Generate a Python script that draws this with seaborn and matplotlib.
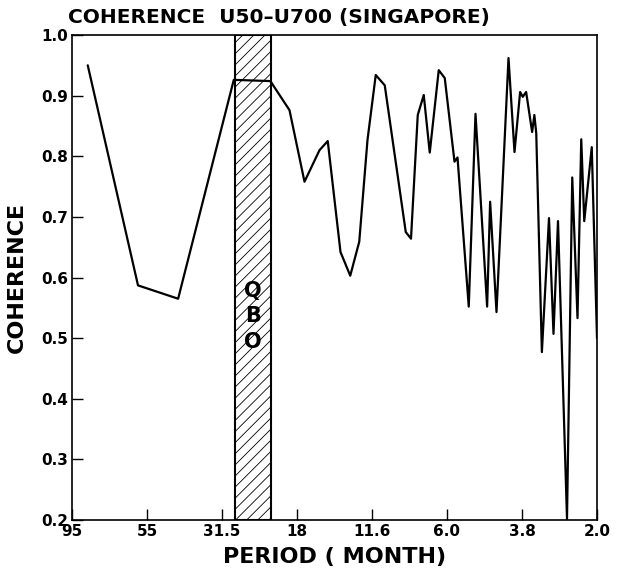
import matplotlib
matplotlib.use("Agg")
import matplotlib.pyplot as plt
import seaborn as sns
import pandas as pd

# ---- data (x = position on the evenly spaced period axis, 0..7) ----
tick_labels = ["95", "55", "31.5", "18", "11.6", "6.0", "3.8", "2.0"]
tick_pos = [0, 1, 2, 3, 4, 5, 6, 7]
pos = [0.21, 0.88, 1.415, 2.157, 2.645, 2.90, 3.10, 3.30, 3.41, 3.58, 3.71, 3.83,
       3.94, 4.05, 4.17, 4.45, 4.52, 4.61, 4.69, 4.77, 4.89, 4.97, 5.10, 5.14,
       5.29, 5.38, 5.535, 5.575, 5.66, 5.82, 5.90, 5.975, 6.01, 6.055, 6.135,
       6.165, 6.19, 6.265, 6.36, 6.42, 6.48, 6.60, 6.67, 6.74, 6.79, 6.83, 6.93, 7.0]
coherence = [0.950, 0.587, 0.565, 0.926, 0.924, 0.876, 0.758, 0.810, 0.825, 0.642,
             0.603, 0.659, 0.827, 0.934, 0.917, 0.675, 0.664, 0.868, 0.901, 0.806,
             0.942, 0.929, 0.791, 0.798, 0.552, 0.870, 0.552, 0.725, 0.543, 0.962,
             0.807, 0.906, 0.898, 0.906, 0.840, 0.868, 0.838, 0.477, 0.698, 0.507,
             0.693, 0.202, 0.765, 0.533, 0.828, 0.693, 0.815, 0.50]
qbo_band = (2.17, 2.65)
y_ticks = [0.2, 0.3, 0.4, 0.5, 0.6, 0.7, 0.8, 0.9, 1.0]

df = pd.DataFrame({"pos": pos, "coherence": coherence})

sns.set_theme(style="ticks")
plt.rcParams["font.family"] = ["DejaVu Sans"]
plt.rcParams["hatch.linewidth"] = 0.6
for k in ["text.color", "axes.labelcolor", "xtick.color", "ytick.color",
          "axes.edgecolor"]:
    plt.rcParams[k] = "black"

fig = plt.figure(figsize=(6.19, 5.73), dpi=100)
ax = fig.add_axes([72/619, 1-520/573, (597-72)/619, (520-35)/573])

ax.axvspan(qbo_band[0], qbo_band[1], facecolor="white", edgecolor="black",
           hatch="///", linewidth=1.5, zorder=1)
sns.lineplot(data=df, x="pos", y="coherence", sort=False, color="black",
             linewidth=1.6, ax=ax, zorder=3)

for i, ch in enumerate("QBO"):
    ax.text((qbo_band[0]+qbo_band[1])/2, 0.578 - i*0.042, ch, ha="center",
            va="center", fontsize=15, fontweight="bold", color="black", zorder=4)

ax.set_xlim(0, 7)
ax.set_ylim(0.2, 1.0)
ax.set_xticks(tick_pos)
ax.set_xticklabels(tick_labels)
ax.set_yticks(y_ticks)
ax.set_yticklabels([f"{v:.1f}" for v in y_ticks])
ax.tick_params(direction="in", length=8, width=1, color="black", pad=3,
               labelsize=11, labelcolor="black")
for lab in ax.get_xticklabels() + ax.get_yticklabels():
    lab.set_fontweight("bold")
for s in ax.spines.values():
    s.set_visible(True)
    s.set_color("black")
    s.set_linewidth(1.2)

ax.set_xlabel("PERIOD ( MONTH)", fontsize=16, fontweight="bold", labelpad=6,
              color="black")
ax.set_ylabel("COHERENCE", fontsize=16, fontweight="bold", labelpad=10,
              color="black")
fig.text(68/619, 1-17/573, "COHERENCE  U50\u2013U700 (SINGAPORE)", ha="left",
         va="center", fontsize=14.5, fontweight="semibold", color="black")

fig.savefig("out.png", dpi=100, facecolor="white")
